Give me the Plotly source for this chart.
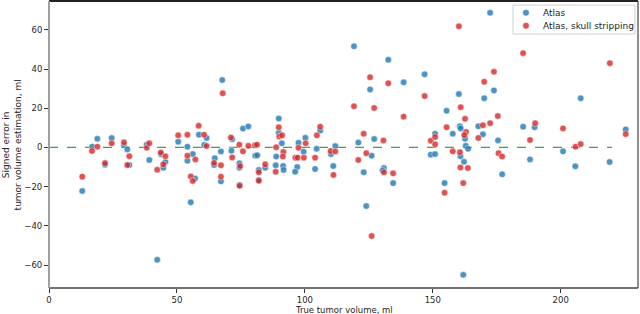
import plotly.graph_objects as go

# Atlas (blue)
atlas_x = [13.0, 16.9, 18.9, 21.9, 24.5, 29.3, 30.6, 31.4, 38.2, 39.2, 42.3, 43.8, 45.5, 44.7,
           50.5, 54.1, 54.1, 55.4, 56.2, 57.1, 58.6, 60.7, 61.6, 64.8, 64.5, 67.2, 67.2, 67.7,
           71.6, 71.3, 74.4, 74.4, 74.5, 75.8, 77.9, 80.6, 81.4, 82.0, 82.0, 84.5, 88.8, 88.6,
           89.8, 89.8, 91.0, 91.5, 91.7, 97.0, 96.2, 97.5, 99.5, 100.2, 104.0, 104.6, 106.0,
           110.2, 111.9, 111.1, 119.2, 120.9, 123.0, 124.0, 125.5, 126.1, 127.1, 130.9, 130.4,
           132.6, 134.5, 138.6, 146.8, 149.2, 150.9, 150.9, 154.6, 155.4, 157.8, 160.2, 160.6,
           160.9, 160.8, 162.2, 162.6, 162.9, 163.8, 161.9, 167.8, 169.6, 170.1, 172.4, 173.9,
           175.5, 177.1, 185.3, 189.8, 188.0, 200.9, 205.7, 207.8, 219.1, 225.4]
atlas_y = [-22.2, 0.4, 4.4, -8.8, 4.8, 1.1, -1.0, -9.0, 1.4, -6.4, -57.3, -3.5, -7.4, -10.4,
           2.9, 0.4, -6.8, -28.0, -3.4, -15.8, 6.5, 1.3, 4.8, -5.5, -9.0, -2.1, -17.3, 34.4,
           4.2, -1.7, -8.1, -10.4, -19.2, 9.6, 10.7, -4.2, -4.0, -11.5, -16.6, -10.4, -4.6, -9.1,
           14.8, 7.5, 2.1, -9.5, -11.5, -10.0, -12.4, 2.4, -2.2, 4.9, -11.0, -0.7, 8.7,
           -3.4, 0.7, -9.5, 51.6, 2.5, -12.7, -29.9, 29.6, -4.2, 4.3, -10.5, -11.8,
           44.7, -18.2, 33.2, 37.3, -3.7, -3.4, 7.0, -18.2, 18.7, 7.0, 27.2, 10.8,
           9.7, -4.5, -7.3, 4.4, 0.8, -0.7, -65.0, 10.8, 6.7, 25.1, 68.7, 29.1,
           3.6, -13.7, 10.6, 10.3, -6.1, -2.0, -9.6, 25.1, -7.4, 9.2]

# Atlas, skull stripping (red)
skull_x = [13.0, 16.8, 18.9, 21.9, 24.5, 29.3, 31.4, 30.6, 38.2, 39.2, 42.3, 43.7, 45.5, 44.7,
           50.5, 54.1, 54.1, 55.4, 56.2, 57.2, 58.5, 60.6, 61.6, 64.5, 67.2, 67.2, 67.9,
           71.1, 71.6, 74.4, 74.7, 74.5, 75.8, 77.9, 80.5, 81.3, 82.0, 82.0, 84.5, 88.8, 88.6,
           89.8, 90.0, 91.1, 91.6, 91.4, 96.3, 97.2, 97.5, 99.6, 100.3, 104.0, 104.7, 106.0,
           110.1, 111.9, 111.2, 119.2, 120.9, 123.0, 124.0, 125.5, 126.1, 127.1, 130.7, 130.9,
           132.6, 134.5, 138.6, 146.8, 149.2, 150.9, 150.9, 154.6, 155.4, 157.8, 160.2, 160.6,
           160.8, 160.9, 161.9, 162.6, 163.0, 162.3, 163.7, 167.8, 169.6, 170.1, 172.4, 173.9,
           175.4, 175.7, 177.1, 185.3, 188.0, 190.0, 200.9, 205.8, 207.8, 219.2, 225.4]
skull_y = [-14.9, -1.8, 0.4, -8.0, 2.1, 2.6, -4.5, -9.0, -0.2, 2.1, -11.4, -2.6, -4.5, -8.6,
           6.2, 6.5, -4.2, -14.8, -17.1, -6.1, 11.1, 6.5, 0.7, -7.9, -9.1, -14.9, 27.6,
           5.1, -5.1, 1.4, -9.5, -19.6, -2.0, 0.8, 1.1, 1.4, -12.7, -17.0, -8.6, 0.1, -12.4,
           10.3, 5.6, 6.2, -2.3, -4.6, -5.2, -5.2, -0.2, -5.2, 2.1, -5.2, 6.2, 10.6,
           -1.8, -2.1, -14.0, 21.0, -6.4, 7.0, -2.9, 35.8, -45.2, 20.1, 3.5, -12.7,
           32.7, -13.2, 15.7, 26.2, 3.4, 5.3, 1.6, -23.1, 10.3, -2.0, 61.8, -2.4,
           -10.2, 20.5, -18.2, 14.6, 7.9, 6.3, -10.5, 4.8, 11.3, 33.5, 12.4, 38.6,
           16.0, -2.9, -4.6, 48.1, 3.8, 12.4, 9.7, 0.4, 1.7, 43.0, 6.8]

series_names = ["Atlas", "Atlas, skull stripping"]
series_colors = ["rgba(31,119,180,0.8)", "rgba(214,39,40,0.8)"]
zero_line_x = [0, 220]
zero_line_y = [0, 0]
x_ticks = [0, 50, 100, 150, 200]
y_ticks = [-60, -40, -20, 0, 20, 40, 60]

fig = go.Figure()
fig.add_trace(go.Scatter(x=zero_line_x, y=zero_line_y, mode="lines",
                         line=dict(color="#3aa83a", dash="dash", width=1.2),
                         showlegend=False, hoverinfo="skip"))
fig.add_trace(go.Scatter(x=atlas_x, y=atlas_y, mode="markers", name=series_names[0],
                         marker=dict(size=6.5, color=series_colors[0],
                                     line=dict(color="white", width=0.5))))
fig.add_trace(go.Scatter(x=skull_x, y=skull_y, mode="markers", name=series_names[1],
                         marker=dict(size=6.5, color=series_colors[1],
                                     line=dict(color="white", width=0.5))))

font = dict(family="DejaVu Sans", size=8.5, color="#262626")

# compact matplotlib-style legend built from shapes + annotations
legend_box = dict(type="rect", xref="paper", yref="paper", x0=0.7878, x1=0.9949,
                  y0=0.885, y1=0.986, line=dict(color="#d0d0d0", width=1),
                  fillcolor="rgba(255,255,255,0.85)", layer="above")
legend_rows_y = [0.9592, 0.9139]
legend_marker_x = 0.8098
legend_text_x = 0.8353
legend_shapes = [legend_box]
legend_annots = []
for name, col, ly in zip(series_names, series_colors, legend_rows_y):
    legend_shapes.append(dict(type="circle", xref="paper", yref="paper",
                              xsizemode="pixel", ysizemode="pixel",
                              xanchor=legend_marker_x, yanchor=ly,
                              x0=-3.3, x1=3.3, y0=-3.3, y1=3.3,
                              fillcolor=col, line=dict(color="white", width=0.5),
                              layer="above"))
    legend_annots.append(dict(text=name, xref="paper", yref="paper", x=legend_text_x, y=ly,
                              xanchor="left", yanchor="middle", showarrow=False,
                              font=dict(family="DejaVu Sans", size=9, color="#262626")))

fig.update_layout(
    width=640, height=314,
    margin=dict(l=49, r=2, t=1, b=26),
    paper_bgcolor="white", plot_bgcolor="white",
    font=font,
    showlegend=False,
    xaxis=dict(range=[0, 230.2], tickvals=x_ticks, showgrid=False, zeroline=False,
               ticks="outside", ticklen=4, tickcolor="#333", tickwidth=1,
               showline=False, tickfont=font),
    yaxis=dict(range=[-71.7, 74.7], tickvals=y_ticks, showgrid=False, zeroline=False,
               ticks="outside", ticklen=4, tickcolor="#333", tickwidth=1,
               showline=False, tickfont=font),
    shapes=[
        dict(type="line", xref="paper", yref="paper", x0=0, x1=1, y0=1, y1=1,
             line=dict(color="#222", width=2)),
        dict(type="line", xref="paper", yref="paper", x0=1, x1=1, y0=0, y1=1,
             line=dict(color="#444", width=1.2)),
        dict(type="line", xref="paper", yref="paper", x0=0, x1=1, y0=0, y1=0,
             line=dict(color="#444", width=1.6)),
        dict(type="line", xref="paper", yref="paper", x0=0, x1=0, y0=0, y1=1,
             line=dict(color="#a0a0a0", width=2)),
    ] + legend_shapes,
    annotations=[
        dict(text="True tumor volume, ml", xref="paper", yref="paper", x=0.5, y=-0.077,
             xanchor="center", yanchor="middle", showarrow=False,
             font=dict(family="DejaVu Sans", size=8.5, color="#262626")),
        dict(text="Signed error in<br>tumor volume estimation, ml", xref="paper", yref="paper",
             x=-0.063, y=0.5, xanchor="center", yanchor="middle", textangle=-90,
             showarrow=False,
             font=dict(family="DejaVu Sans", size=9, color="#262626")),
    ] + legend_annots,
)

fig.write_html("out.html", config={"displayModeBar": False},
               post_script="document.body.style.margin='0';document.body.style.overflow='hidden';")
